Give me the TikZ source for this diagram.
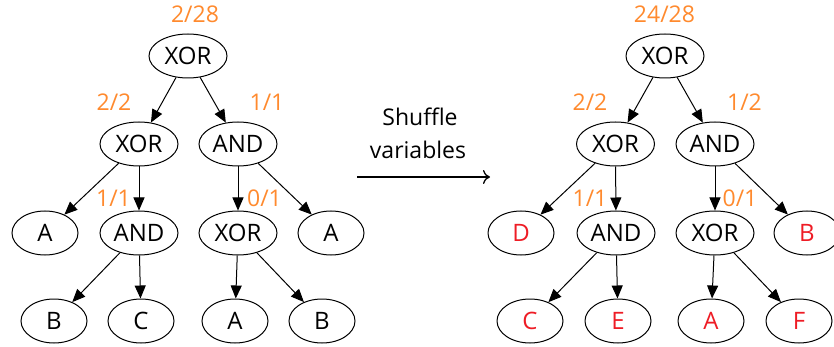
\documentclass[tikz,border=0pt]{standalone}
\usepackage{fontspec}
\setmainfont{Open Sans}
\usetikzlibrary{shapes.geometric,arrows.meta}
\definecolor{lblorange}{HTML}{FF8A2E}
\definecolor{varred}{HTML}{EE1C25}
\begin{document}
\begin{tikzpicture}[x=1pt,y=-1pt,
  op/.style={draw,ellipse,line width=1pt,minimum width=78pt,minimum height=44pt,inner sep=0pt,font=\fontsize{24}{28}\selectfont},
  var/.style={draw,ellipse,line width=1pt,minimum width=66pt,minimum height=44pt,inner sep=0pt,font=\fontsize{24}{28}\selectfont},
  rv/.style={var,text=varred},
  lbl/.style={anchor=base,inner sep=0pt,text=lblorange,font=\fontsize{23}{28}\selectfont},
  conn/.style={-{Triangle[length=13pt,width=11pt]},line width=1pt},
  captxt/.style={anchor=base,inner sep=0pt,font=\fontsize{23}{28}\selectfont}]
\useasboundingbox (0,0) rectangle (834,347);
% left tree
\node[op] (r) at (188,56) {XOR};
\node[op] (lx) at (139,144) {XOR};
\node[op] (la) at (238,144) {AND};
\node[var] (a1) at (45,233) {A};
\node[op] (and2) at (139,233) {AND};
\node[op] (xor2) at (238,233) {XOR};
\node[var] (a2) at (331,233) {A};
\node[var] (b1) at (54,321) {B};
\node[var] (c1) at (141,321) {C};
\node[var] (a3) at (235,321) {A};
\node[var] (b2) at (322,321) {B};
\draw[conn] (r) -- (lx);
\draw[conn] (r) -- (la);
\draw[conn] (lx) -- (a1);
\draw[conn] (lx) -- (and2);
\draw[conn] (la) -- (xor2);
\draw[conn] (la) -- (a2);
\draw[conn] (and2) -- (b1);
\draw[conn] (and2) -- (c1);
\draw[conn] (xor2) -- (a3);
\draw[conn] (xor2) -- (b2);
\node[lbl] (l1) at (195,23) {2/28};
\node[lbl] (l2) at (114,111) {2/2};
\node[lbl] (l3) at (267,111) {1/1};
\node[lbl] (l4) at (113.5,207) {1/1};
\node[lbl] (l5) at (264.5,207) {0/1};
% arrow
\node[captxt] (t1) at (420,126) {Shuffle};
\node[captxt] (t2) at (418,159) {variables};
\coordinate (s) at (357,177);
\coordinate (e) at (490,177);
\draw[-{To[length=7pt,width=14pt]},line width=1.3pt] (s) -- (e);
% right tree
\node[op] (R) at (665,56) {XOR};
\node[op] (RX) at (615.5,144) {XOR};
\node[op] (RA) at (715,144) {AND};
\node[rv] (d) at (521,233) {D};
\node[op] (RAND) at (616,233) {AND};
\node[op] (RXOR) at (715,233) {XOR};
\node[rv] (bb) at (807,233) {B};
\node[rv] (cc) at (530,321) {C};
\node[rv] (ee) at (618,321) {E};
\node[rv] (aa) at (711,321) {A};
\node[rv] (ff) at (799,321) {F};
\draw[conn] (R) -- (RX);
\draw[conn] (R) -- (RA);
\draw[conn] (RX) -- (d);
\draw[conn] (RX) -- (RAND);
\draw[conn] (RA) -- (RXOR);
\draw[conn] (RA) -- (bb);
\draw[conn] (RAND) -- (cc);
\draw[conn] (RAND) -- (ee);
\draw[conn] (RXOR) -- (aa);
\draw[conn] (RXOR) -- (ff);
\node[lbl] (m1) at (664.5,23) {24/28};
\node[lbl] (m2) at (590,111) {2/2};
\node[lbl] (m3) at (744.5,111) {1/2};
\node[lbl] (m4) at (590,207) {1/1};
\node[lbl] (m5) at (740,207) {0/1};
\end{tikzpicture}
\end{document}
